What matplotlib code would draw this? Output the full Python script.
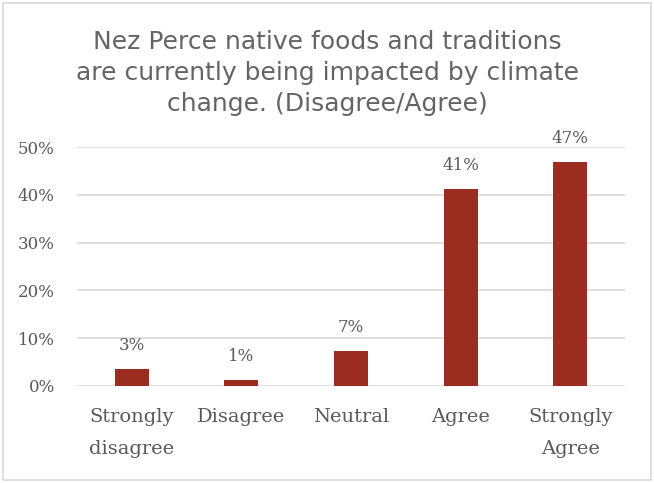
import matplotlib
matplotlib.use("Agg")
import matplotlib.pyplot as plt
from matplotlib.patches import Rectangle

categories = ["Strongly\ndisagree", "Disagree", "Neutral", "Agree", "Strongly\nAgree"]
values = [3.5, 1.2, 7.3, 41.2, 46.9]
labels = ["3%", "1%", "7%", "41%", "47%"]
yticks = [0, 10, 20, 30, 40, 50]

grey = "#595959"
bar_color = "#9B2D20"

fig = plt.figure(figsize=(6.54, 4.83), dpi=100)
ax = fig.add_axes([77 / 654, 1 - 386 / 483, 548 / 654, (386 - 147) / 483])

x = list(range(len(categories)))
bars = ax.bar(x, values, width=0.31, color=bar_color, zorder=3)
for b, lab in zip(bars, labels):
    ax.text(b.get_x() + b.get_width() / 2, b.get_height() + 3.1, lab,
            ha="center", va="bottom", fontsize=12, color=grey, family="DejaVu Serif")

ax.set_xlim(-0.5, 4.5)
ax.set_ylim(0, 50)
ax.set_yticks(yticks)
ax.set_yticklabels([f"{t}%" for t in yticks], family="DejaVu Serif", fontsize=12, color=grey)
ax.set_xticks(x)
ax.set_xticklabels(categories, family="DejaVu Serif", fontsize=14, color=grey, linespacing=1.95)
ax.tick_params(axis="both", length=0)
ax.tick_params(axis="x", pad=16)
ax.tick_params(axis="y", pad=16)
ax.grid(axis="y", color="#D9D9D9", linewidth=1.2, zorder=0)
for s in ax.spines.values():
    s.set_visible(False)
ax.set_axisbelow(True)

fig.text(0.5, 1 - 73 / 483,
         "Nez Perce native foods and traditions\nare currently being impacted by climate\nchange. (Disagree/Agree)",
         ha="center", va="center", fontsize=18, color="#646464", family="DejaVu Sans",
         linespacing=1.38)

fig.patches.append(Rectangle((3 / 654, 3 / 483), 648 / 654, 477 / 483, transform=fig.transFigure,
                             fill=False, edgecolor="#D9D9D9", linewidth=1.2))

fig.savefig("out.png", dpi=100)
